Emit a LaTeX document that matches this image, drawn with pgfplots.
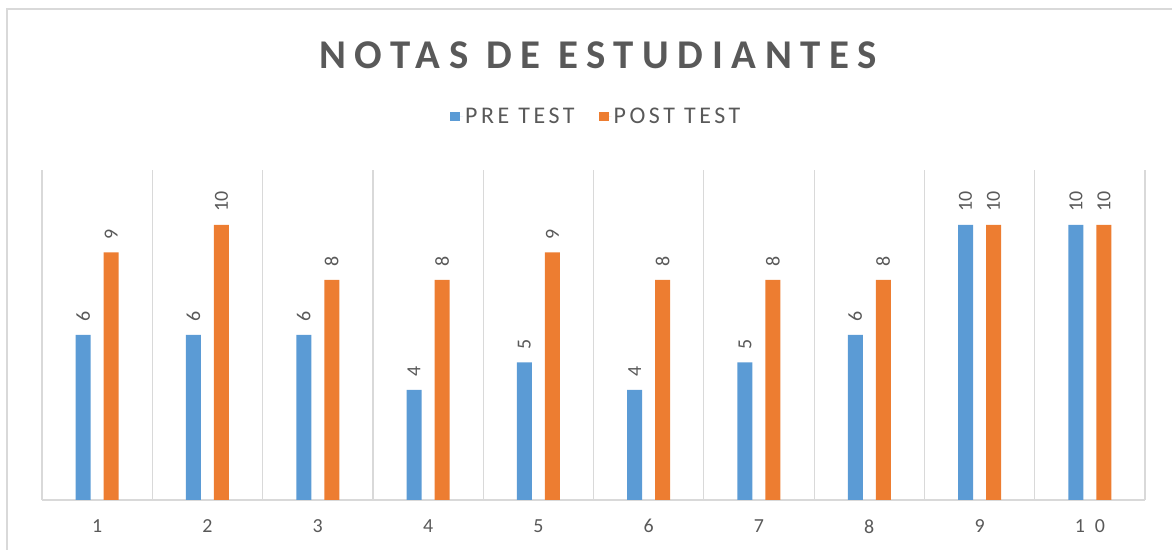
\documentclass[border=0pt]{standalone}
\usepackage{fontspec}
\setmainfont{Carlito}
\newfontfamily\titlefont[LetterSpace=21]{Carlito}
\newfontfamily\tickfont[LetterSpace=50]{Carlito}
\newfontfamily\legfont[LetterSpace=15]{Carlito}
\usepackage{pgfplots}
\pgfplotsset{compat=1.18}
\definecolor{pre}{HTML}{5B9BD5}
\definecolor{post}{HTML}{ED7D31}
\definecolor{txt}{HTML}{595959}
\definecolor{grd}{HTML}{D9D9D9}
\begin{document}
\begin{tikzpicture}[x=1bp,y=1bp]
\path[use as bounding box] (0,0) rectangle (1172,550);
\draw[grd, line width=1.5bp] (7,0) -- (7,541) -- (1172,541);
\node[font=\titlefont\bfseries\fontsize{41}{44}\selectfont, text=txt] at (598,495) {NOTAS DE ESTUDIANTES};
\begin{axis}[
  at={(42bp,50bp)}, anchor=south west, scale only axis,
  width=1103bp, height=330bp,
  /pgf/number format/assume math mode=true,
  ybar=13bp, bar width=15bp,
  xmin=0.5, xmax=10.5, ymin=0, ymax=12,
  axis y line=none, axis x line=bottom,
  x axis line style={-, draw=grd, line width=1.5bp},
  xtick={1,...,10}, major tick length=0pt, minor tick length=0pt,
  minor xtick={0.5,1.5,...,10.5}, xminorgrids,
  minor grid style={draw=grd, line width=1.2bp},
  xticklabel style={font=\tickfont\fontsize{20}{22}\selectfont, text=txt, yshift=-16bp},
  nodes near coords,
  nodes near coords style={rotate=90, anchor=west, inner xsep=13bp, inner ysep=0pt,
     font=\fontsize{20}{22}\selectfont, text=txt},
  legend columns=2,
  legend style={at={(0.5025,1.161)}, anchor=center, draw=none, fill=none,
     font=\legfont\fontsize{24}{26}\selectfont, text=txt,
     /tikz/every even column/.append style={column sep=22bp}},
  legend image code/.code={\fill[#1] (0bp,-4.5bp) rectangle (10bp,4.5bp); \path (10bp,0) -- (13bp,0);},
]
\addplot[fill=pre, draw=none] coordinates {(1,6) (2,6) (3,6) (4,4) (5,5) (6,4) (7,5) (8,6) (9,10) (10,10)};
\addplot[fill=post, draw=none] coordinates {(1,9) (2,10) (3,8) (4,8) (5,9) (6,8) (7,8) (8,8) (9,10) (10,10)};
\legend{PRE TEST, POST TEST}
\end{axis}
\end{tikzpicture}
\end{document}
